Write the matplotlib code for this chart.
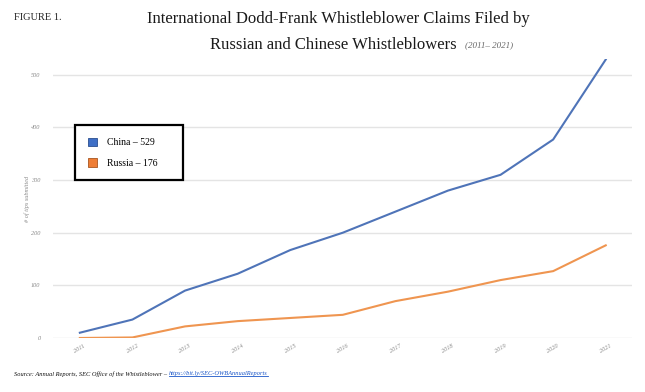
import matplotlib
matplotlib.use("Agg")
import matplotlib.pyplot as plt
from matplotlib.patches import Patch
from matplotlib.lines import Line2D

years = [2011, 2012, 2013, 2014, 2015, 2016, 2017, 2018, 2019, 2020, 2021]
china = [10, 35, 90, 122, 167, 200, 240, 280, 310, 377, 529]
russia = [0, 1, 22, 32, 38, 44, 70, 88, 110, 127, 176]
yticks = [0, 100, 200, 300, 400, 500]

plt.rcParams['font.family'] = ['Liberation Serif', 'DejaVu Serif']

fig = plt.figure(figsize=(6.45, 3.92), dpi=100)
ax = fig.add_axes([0.0822, 0.1378, 0.8977, 0.7117])

blue = '#4f74b8'
orange = '#ef9550'
ax.plot(years, china, color=blue, lw=1.5, zorder=3)
ax.plot(years, russia, color=orange, lw=1.5, zorder=3)

ax.set_xlim(2010.49, 2021.5)
ax.set_ylim(0, 530)
ax.set_yticks(yticks)
ax.set_xticks(years)
ax.grid(axis='y', color='#e4e4e4', lw=1)
ax.set_axisbelow(True)
for s in ax.spines.values():
    s.set_visible(False)
ax.tick_params(length=0)
ax.set_yticklabels([str(v) for v in yticks], fontsize=4.5, style='italic', color='#8a8a8a')
ax.tick_params(axis='y', pad=9)
ax.set_xticklabels([str(y) for y in years], fontsize=4.5, style='italic', color='#8a8a8a',
                   rotation=30)
ax.tick_params(axis='x', pad=4)
ax.set_ylabel('# of tips submitted', fontsize=4.5, style='italic', color='#8a8a8a', labelpad=1)

handles = [Patch(facecolor='#3f6fc6', edgecolor='#2b4f8f', lw=0.6, label='China – 529'),
           Patch(facecolor='#ee7d35', edgecolor='#a85520', lw=0.6, label='Russia – 176')]
leg = fig.legend(handles=handles, loc='upper left', bbox_to_anchor=(75 / 645, 1 - 125 / 392),
                 fontsize=7, fancybox=False, frameon=True, handlelength=1.0, handleheight=1.0,
                 borderpad=1.3, labelspacing=1.1, handletextpad=1.0, borderaxespad=0)
leg.get_frame().set_edgecolor('black')
leg.get_frame().set_linewidth(1.6)
leg.get_frame().set_alpha(1)
# extra room on the right of the labels, like the original box
for t in leg.get_texts():
    t.set_text(t.get_text() + '     ')

fig.text(14 / 645, 1 - 17 / 392, 'FIGURE 1.', fontsize=7.5, ha='left', va='center', color='#222222')
fig.text(338 / 645, 1 - 19 / 392, 'International Dodd-Frank Whistleblower Claims Filed by',
         fontsize=12, ha='center', va='center', color='#1a1a1a')
fig.text(457 / 645, 1 - 45 / 392, 'Russian and Chinese Whistleblowers',
         fontsize=12, ha='right', va='center', color='#1a1a1a')
fig.text(465 / 645, 1 - 45 / 392, '(2011– 2021)', fontsize=6.5, style='italic',
         ha='left', va='center', color='#666666')

fig.canvas.draw()
r = fig.canvas.get_renderer()
src = fig.text(14 / 645, 1 - 374 / 392, 'Source: Annual Reports, SEC Office of the Whistleblower – ',
               fontsize=4.6, style='italic', ha='left', va='center', color='#111111')
bb = src.get_window_extent(r)
x0 = bb.x1 / fig.bbox.width
link = fig.text(x0, 1 - 374 / 392, 'https://bit.ly/SEC-OWBAnnualReports', fontsize=4.6,
                style='italic', ha='left', va='center', color='#1a56c8')
lb = link.get_window_extent(r)
uy = (lb.y0 + 0.5) / fig.bbox.height
fig.add_artist(Line2D([lb.x0 / fig.bbox.width, lb.x1 / fig.bbox.width], [uy, uy],
                      color='#1a56c8', lw=0.6))

fig.savefig('out.png', dpi=100)
